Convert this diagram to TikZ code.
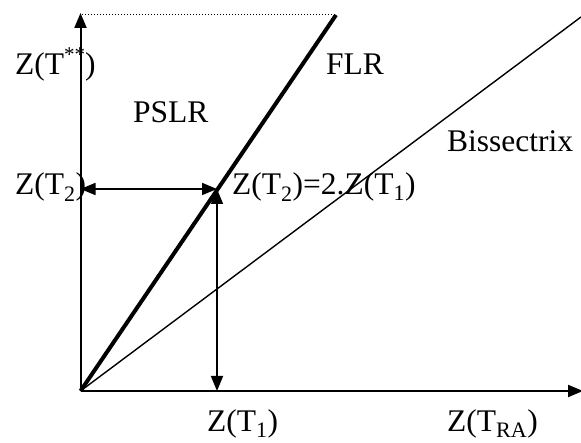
\documentclass[tikz,border=0pt]{standalone}
\usepackage{fontspec}
\setmainfont{Liberation Serif}
\usetikzlibrary{arrows.meta}
\newcommand{\mysup}[1]{\raisebox{0.42em}{\fontsize{21}{24}\selectfont #1}}
\tikzset{
  lbl/.style={anchor=base west, inner sep=0pt, font=\fontsize{31.5}{36}\selectfont},
  tip/.style={-{Triangle[length=15pt,width=12pt]}},
  dtip/.style={{Triangle[length=15pt,width=12pt]}-{Triangle[length=15pt,width=12pt]}},
}
\begin{document}
\begin{tikzpicture}[x=1pt,y=1pt]
\useasboundingbox (0,0) rectangle (581,443);
\coordinate (O) at (80.5,52);
\coordinate (Ytop) at (80.5,430);
\coordinate (Xend) at (583,52);
\coordinate (Ftop) at (336,428);
\coordinate (Dstart) at (82,428);
\coordinate (Bend) at (581,426);
\coordinate (P) at (217,254);
\coordinate (Px) at (217,52);
\coordinate (Py) at (80.5,254);
% axes
\draw[line width=2pt, tip] (O) -- (Ytop);
\draw[line width=2pt, tip] (O) -- (Xend);
% dotted top
\draw[line width=1pt, dotted] (Dstart) -- (Ftop);
% FLR
\draw[line width=4pt] (O) -- (Ftop);
% Bissectrix
\draw[line width=1.4pt] (O) -- (Bend);
% double arrows
\draw[line width=1.6pt, dtip] (Py) -- (P);
\draw[line width=1.6pt, dtip] (P) -- (Px);
% labels
\node[lbl] (zts) at (15,368) {Z(T\mysup{**})};
\node[lbl] (pslr) at (133,320) {PSLR};
\node[lbl] (flr) at (326,368) {FLR};
\node[lbl] (bis) at (447,291) {Bissectrix};
\node[lbl] (zt2) at (15,248) {Z(T\textsubscript{2})};
\node[lbl] (eq) at (232,248) {Z(T\textsubscript{2})=2.Z(T\textsubscript{1})};
\node[lbl] (zt1) at (207,11) {Z(T\textsubscript{1})};
\node[lbl] (ztra) at (447,11) {Z(T\textsubscript{RA})};
\end{tikzpicture}
\end{document}
